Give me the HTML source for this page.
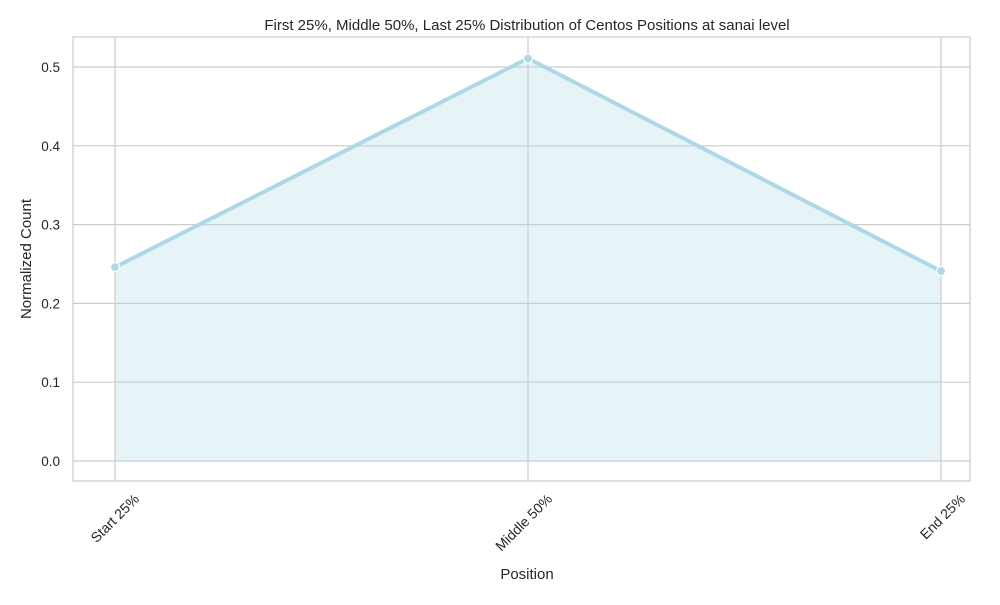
<!DOCTYPE html>
<html><head><meta charset="utf-8"><style>
body{margin:0;background:#fff;font-family:"Liberation Sans",sans-serif;}
svg text{font-family:"Liberation Sans",sans-serif;fill:#262626;}
</style></head><body>
<svg width="1000" height="600">
<rect x="0" y="0" width="1000" height="600" fill="#fff"/>
<g id="grid"></g>
<g id="series"></g>
<rect x="73" y="37" width="897" height="444" fill="none" stroke="#cccccc" stroke-width="1.2"/>
<g id="ticks"></g>
<text x="527" y="30" text-anchor="middle" font-size="15">First 25%, Middle 50%, Last 25% Distribution of Centos Positions at sanai level</text>
<text x="527" y="579" text-anchor="middle" font-size="15">Position</text>
<text transform="translate(31,259) rotate(-90)" text-anchor="middle" font-size="15">Normalized Count</text>
</svg>
<script>
const categories=["Start 25%","Middle 50%","End 25%"];
const values=[0.246,0.511,0.241];
const yTicks=[0.0,0.1,0.2,0.3,0.4,0.5];
const NS="http://www.w3.org/2000/svg";
function xs(i){return 115+i*(941-115)/(categories.length-1);}
function ys(v){return 461-v*788;}
function mk(t,a,p){const e=document.createElementNS(NS,t);for(const k in a)e.setAttribute(k,a[k]);p.appendChild(e);return e;}
const grid=document.getElementById('grid'),ser=document.getElementById('series'),tk=document.getElementById('ticks');
yTicks.forEach(v=>{
 const l=mk('line',{x1:73,x2:970,y1:ys(v),y2:ys(v),stroke:'#cccccc','stroke-width':1.2},grid);
 
 
 const t=mk('text',{x:60,y:ys(v)+5,'text-anchor':'end','font-size':13.5},tk);
 t.textContent=v.toFixed(1);
 
 
});
categories.forEach((c,i)=>{
 const l=mk('line',{x1:xs(i),x2:xs(i),y1:37,y2:481,stroke:'#cccccc','stroke-width':1.2},grid);
 
 
 const t=mk('text',{x:0,y:0,'text-anchor':'end','font-size':14,transform:`translate(${xs(i)+25},${500}) rotate(-45)`},tk);
 t.textContent=c;
 
 
});
let pts=values.map((v,i)=>xs(i)+','+ys(v)).join(' ');
const area=mk('polygon',{points:xs(0)+','+ys(0)+' '+pts+' '+xs(values.length-1)+','+ys(0),fill:'#add8e6','fill-opacity':0.3},ser);


const line=mk('polyline',{points:pts,fill:'none',stroke:'#add8e6','stroke-width':4},ser);


values.forEach((v,i)=>{
 const c=mk('circle',{cx:xs(i),cy:ys(v),r:4.5,fill:'#add8e6',stroke:'#fff','stroke-width':1.2},ser);
 
 
});
</script>
</body></html>
